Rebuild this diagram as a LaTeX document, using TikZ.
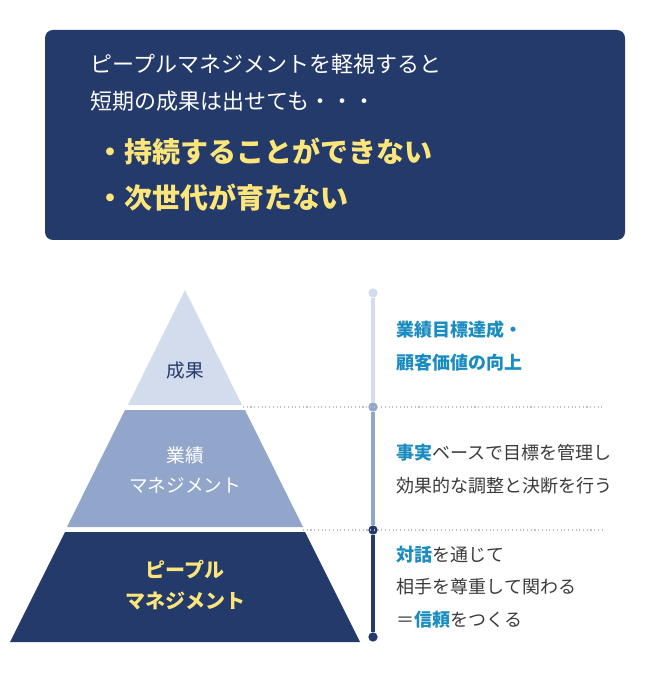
\documentclass[tikz,border=0pt]{standalone}
\usepackage{fontspec}
\setmainfont{Noto Sans CJK JP}
\usetikzlibrary{positioning}
\definecolor{navy}{HTML}{233A6B}
\definecolor{midblue}{HTML}{92A6CB}
\definecolor{paleblue}{HTML}{D3DCEC}
\definecolor{accent}{HTML}{1A8CC0}
\definecolor{gold}{HTML}{FCE57A}
\definecolor{ink}{HTML}{3A3A3A}
\begin{document}
\begin{tikzpicture}[
                x=0.75pt, y=-0.75pt,
                lead/.style={anchor=west, text=white, font=\fontsize{16.5}{20}\selectfont},
                point/.style={anchor=west, text=gold, font=\fontsize{21}{25}\selectfont\bfseries},
                desc/.style={anchor=west, text=ink, align=left,
                    font=\fontsize{13.5}{24.5}\selectfont},
                hl/.style={text=accent},
                tier/.style={align=center, font=\fontsize{14}{22}\selectfont},
                dot/.style={circle, fill, inner sep=0, minimum size=7pt},
                guide/.style={gray!50, dotted, line width=0.8pt}
            ]
            \useasboundingbox (0,0) rectangle (670,680);
            % 上のボックス
            \fill[navy, rounded corners=6pt] (45,30) rectangle (625,240);
            \node[lead] (l1) at (86,64) {ピープルマネジメントを軽視すると};
            \node[lead] (l2) at (86,101) {短期の成果は出せても・・・};
            \node[point] (p1) at (92,152) {・持続することができない};
            \node[point] (p2) at (92,198) {・次世代が育たない};
            % ピラミッド
            \fill[paleblue] (185,290) -- (242,405) -- (128,405) -- cycle;
            \fill[midblue] (125,410) -- (245,410) -- (303,527) -- (67,527) -- cycle;
            \fill[navy] (65,532) -- (305,532) -- (360,642) -- (10,642) -- cycle;
            \node[tier, text=navy] (t1) at (185,370) {成果};
            \node[tier, text=white] (t2) at (185,470) {業績\\マネジメント};
            \node[tier, text=gold, font=\fontsize{15}{23}\selectfont\bfseries] (t3) at (185,585) {ピープル\\マネジメント};
            % 区切り線
            \coordinate (g1) at (243,407);
            \coordinate (g2) at (303,530);
            \node[dot, paleblue] (d0) at (373,293) {};
            \node[dot, midblue] (d1) at (373,407) {};
            \node[dot, navy] (d2) at (373,530) {};
            \node[dot, navy] (d3) at (373,637) {};
            \draw[guide] (g1) -- (605,407);
            \draw[guide] (g2) -- (605,530);
            \draw[paleblue, line width=2.5pt] (d0) -- (d1);
            \draw[midblue, line width=2.5pt] (d1) -- (d2);
            \draw[navy, line width=2.5pt] (d2) -- (d3);
            % 説明
            \node[desc, text=accent, font=\fontsize{13.5}{24.5}\selectfont\bfseries] (r1) at (392,346) {業績目標達成・\\顧客価値の向上};
            \node[desc] (r2) at (392,469) {{\bfseries\color{accent}事実}ベースで目標を管理し\\効果的な調整と決断を行う};
            \node[desc] (r3) at (392,587) {{\bfseries\color{accent}対話}を通じて\\相手を尊重して関わる\\＝{\bfseries\color{accent}信頼}をつくる};
            \end{tikzpicture}
\end{document}
